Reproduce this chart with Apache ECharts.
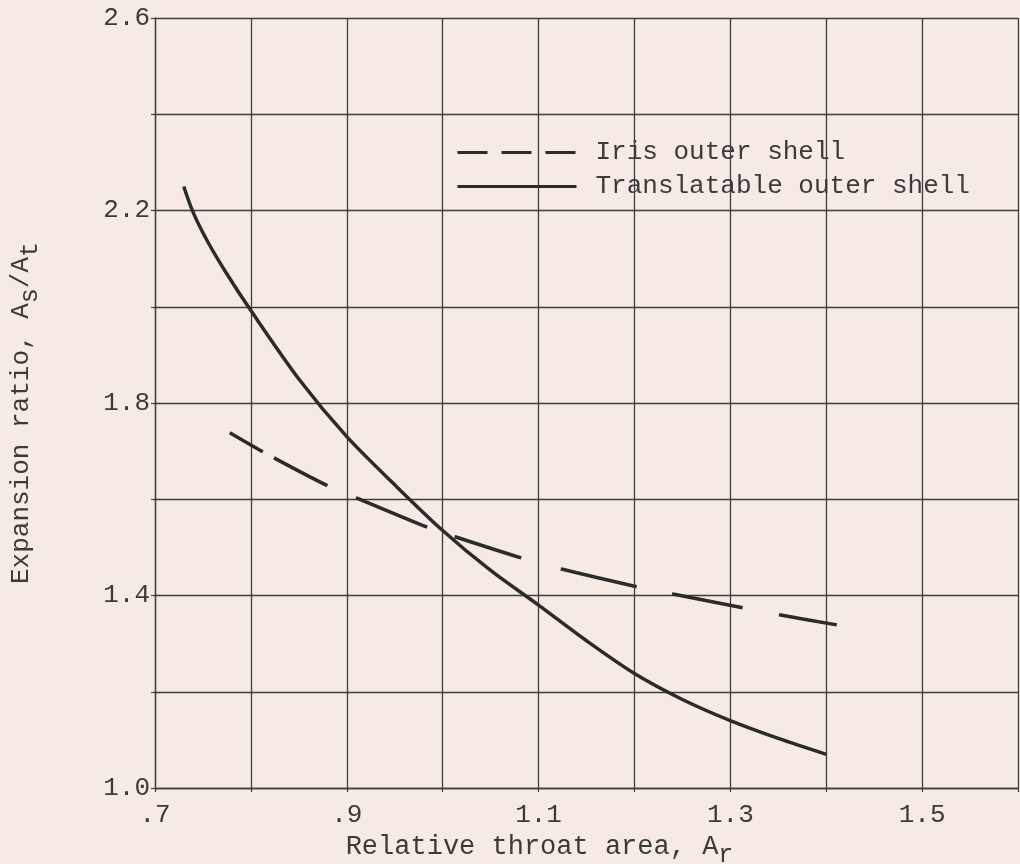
<!DOCTYPE html>
<html><head><meta charset="utf-8">
<script src="https://cdn.jsdelivr.net/npm/echarts@6/dist/echarts.min.js"></script>
<style>html,body{margin:0;padding:0;background:#f6ebe4}#c{width:1020px;height:864px}</style>
</head><body><div id="c"></div>
<script>
// ---- data ----
const translatableX = [0.730, 0.740, 0.755, 0.775, 0.800, 0.850, 0.900, 0.950, 1.000, 1.050, 1.100, 1.150, 1.200, 1.250, 1.300, 1.350, 1.400];
const translatableY = [2.250, 2.195, 2.135, 2.068, 1.992, 1.850, 1.730, 1.630, 1.535, 1.452, 1.380, 1.306, 1.238, 1.184, 1.140, 1.103, 1.070];
const irisX = [0.778, 0.813, 0.880, 0.910, 0.984, 1.013, 1.082, 1.124, 1.203, 1.240, 1.314, 1.351, 1.411];
const irisY = [1.738, 1.698, 1.628, 1.603, 1.542, 1.522, 1.478, 1.455, 1.418, 1.403, 1.374, 1.360, 1.339];
const xTickValues = [0.7, 0.9, 1.1, 1.3, 1.5];
const xTickLabels = ['.7', '.9', '1.1', '1.3', '1.5'];
const yTickValues = [1.0, 1.4, 1.8, 2.2, 2.6];
const yTickLabels = ['1.0', '1.4', '1.8', '2.2', '2.6'];
const seriesNames = ['Iris outer shell', 'Translatable outer shell'];

const FONT = 'Liberation Mono';
const INK = '#2b2b2b';
const TXT = '#3a3a3a';
const GRIDC = '#3d3d3d';

function pairs(xs, ys) { return xs.map((x, i) => [x, ys[i]]); }
function lookup(vals, labels, v) {
  for (let i = 0; i < vals.length; i++) if (Math.abs(vals[i] - v) < 1e-6) return labels[i];
  return '';
}

const chart = echarts.init(document.getElementById('c'), null, {renderer: 'canvas'});
const richMain = {fontFamily: FONT, fontSize: 27, color: TXT, verticalAlign: 'top', lineHeight: 28};
const richSub = {fontFamily: FONT, fontSize: 25, color: TXT, verticalAlign: 'top', lineHeight: 28, padding: [10, 0, 0, 0]};
const hidden = {color: 'rgba(0,0,0,0)', opacity: 0, borderWidth: 0};

chart.setOption({
  backgroundColor: '#f6ebe4',
  animation: false,
  grid: {left: 155, right: 2, top: 18, bottom: 76, containLabel: false, outerBoundsMode: 'none'},
  legend: {
    orient: 'vertical', left: 456, top: 139, padding: 0,
    itemWidth: 119, itemHeight: 14, itemGap: 7,
    textStyle: {fontFamily: FONT, fontSize: 26, color: TXT, lineHeight: 27, padding: [0, 0, 0, 14]},
    data: [
      {name: seriesNames[0], itemStyle: hidden, lineStyle: {type: [30, 14], width: 3, color: INK}},
      {name: seriesNames[1], itemStyle: hidden, lineStyle: {type: 'solid', width: 3, color: INK}}
    ]
  },
  xAxis: {
    type: 'value', min: 0.7, max: 1.6, interval: 0.1,
    axisLine: {show: true, lineStyle: {color: GRIDC, width: 1.3}},
    axisTick: {show: true, length: 4, lineStyle: {color: GRIDC, width: 1.2}},
    splitLine: {show: true, lineStyle: {color: GRIDC, width: 1.3}},
    axisLabel: {
      fontFamily: FONT, fontSize: 26, color: TXT, margin: 14, showMaxLabel: true, showMinLabel: true,
      formatter: v => lookup(xTickValues, xTickLabels, v)
    },
    name: '{a|Relative throat area, A}{s|r}',
    nameLocation: 'middle', nameGap: 42,
    nameTextStyle: {padding: [0, 94, 0, 0], rich: {a: richMain, s: richSub}}
  },
  yAxis: {
    type: 'value', min: 1.0, max: 2.6, interval: 0.2,
    axisLine: {show: true, lineStyle: {color: GRIDC, width: 1.3}},
    axisTick: {show: true, length: 4, lineStyle: {color: GRIDC, width: 1.2}},
    splitLine: {show: true, lineStyle: {color: GRIDC, width: 1.3}},
    axisLabel: {
      fontFamily: FONT, fontSize: 26, color: TXT, margin: 5, showMaxLabel: true, showMinLabel: true,
      formatter: v => lookup(yTickValues, yTickLabels, v)
    },
    name: '{a|Expansion ratio, A}{s|s}{a|/A}{s|t}',
    nameLocation: 'middle', nameGap: 119, nameRotate: 90,
    nameTextStyle: {padding: [0, 20, 0, 0], rich: {a: {...richMain, fontSize: 26}, s: richSub}}
  },
  series: [
    {
      name: seriesNames[0], type: 'line', data: pairs(irisX, irisY),
      symbol: 'none', smooth: 0.3, itemStyle: {color: INK},
      lineStyle: {color: INK, width: 3.5, type: [38, 13, 60, 31, 77, 29, 70, 41, 78, 36, 72, 37, 59, 40]}
    },
    {
      name: seriesNames[1], type: 'line', data: pairs(translatableX, translatableY),
      symbol: 'none', smooth: 0.3, itemStyle: {color: INK},
      lineStyle: {color: INK, width: 3.5, type: 'solid'}
    }
  ]
});
</script>
</body></html>
